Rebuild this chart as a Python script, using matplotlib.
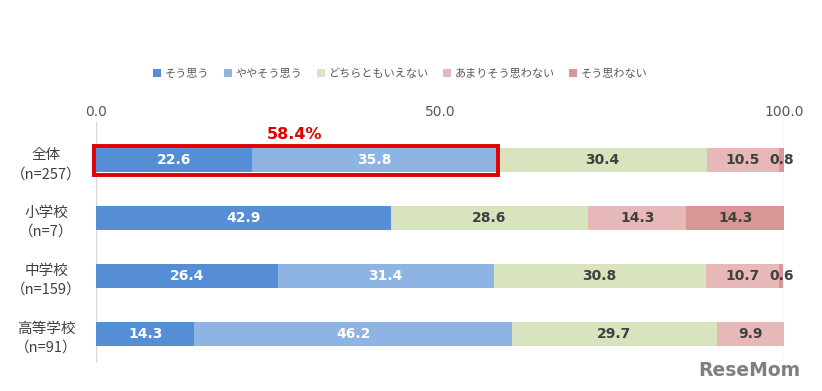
import matplotlib
matplotlib.use("Agg")
import matplotlib.pyplot as plt
from matplotlib.patches import Rectangle
import numpy as np

plt.rcParams['font.family'] = ['Noto Sans CJK JP', 'DejaVu Sans']

# data
groups = ['全体\n（n=257）', '小学校\n（n=7）', '中学校\n（n=159）', '高等学校\n（n=91）']
answers = ['そう思う', 'ややそう思う', 'どちらともいえない', 'あまりそう思わない', 'そう思わない']
sou = [22.6, 42.9, 26.4, 14.3]
yaya = [35.8, 0, 31.4, 46.2]
dochira = [30.4, 28.6, 30.8, 29.7]
amari = [10.5, 14.3, 10.7, 9.9]
omowanai = [0.8, 14.3, 0.6, 0]
highlight = 58.4

series = [sou, yaya, dochira, amari, omowanai]
colors = ['#558ED5', '#8EB4E3', '#D7E4BD', '#E6B9B8', '#D99694']
text_colors = ['white', 'white', '#404040', '#404040', '#404040']

fig = plt.figure(figsize=(8.22, 3.91), dpi=100)
ax = fig.add_axes([0.1168, 0.0716, 0.837, 0.616])

y = np.arange(len(groups))
left = np.zeros(len(groups))
for vals, col, tcol, name in zip(series, colors, text_colors, answers):
    vals = np.array(vals)
    ax.barh(y, vals, left=left, height=0.42, color=col, label=name, zorder=2)
    for i, v in enumerate(vals):
        if v > 0:
            ax.text(left[i] + v / 2, y[i], f'{v:.1f}', ha='center', va='center',
                    color=tcol, fontsize=10, fontweight='bold', family='DejaVu Sans', zorder=4)
    left += vals

# red highlight box around first two segments of 全体
ax.add_patch(Rectangle((-0.25, -0.25), highlight + 0.35, 0.5, fill=False,
                       edgecolor='#E00000', linewidth=2.8, zorder=5, clip_on=False))
ax.text(highlight / 2 - 0.4, -0.45, f'{highlight}%', ha='center', va='center', color='#E00000',
        fontsize=11.5, fontweight='bold', family='DejaVu Sans')

ax.set_xlim(0, 100)
ax.set_ylim(3.5, -0.655)
ax.set_xticks([0, 50, 100])
ax.set_xticklabels(['0.0', '50.0', '100.0'], family='DejaVu Sans')
ax.xaxis.tick_top()
ax.tick_params(axis='x', length=0, pad=2, labelsize=10, labelcolor='#595959')
ax.set_yticks(y)
ax.set_yticklabels(groups, fontsize=10.5, color='#404040', linespacing=1.5)
ax.tick_params(axis='y', length=0)
for lab in ax.get_yticklabels():
    lab.set_horizontalalignment('center')
    lab.set_transform(ax.get_yaxis_transform())
    lab.set_x(-0.072)
for s in ax.spines.values():
    s.set_visible(False)
ax.axvline(0, color='#D9D9D9', lw=1, zorder=1)
ax.axvline(100, color='#D9D9D9', lw=1, zorder=1)

fig.legend(loc='center', bbox_to_anchor=(0.487, 0.812), ncol=5, frameon=False,
           fontsize=8, handlelength=0.75, handleheight=0.75, handletextpad=0.3,
           columnspacing=1.3, labelcolor='#595959')

fig.text(0.974, 0.052, 'ReseMom', ha='right', va='center', fontsize=13.5,
         fontweight='bold', color='#7F7F7F', family='DejaVu Sans')

fig.savefig('out.png', dpi=100)
